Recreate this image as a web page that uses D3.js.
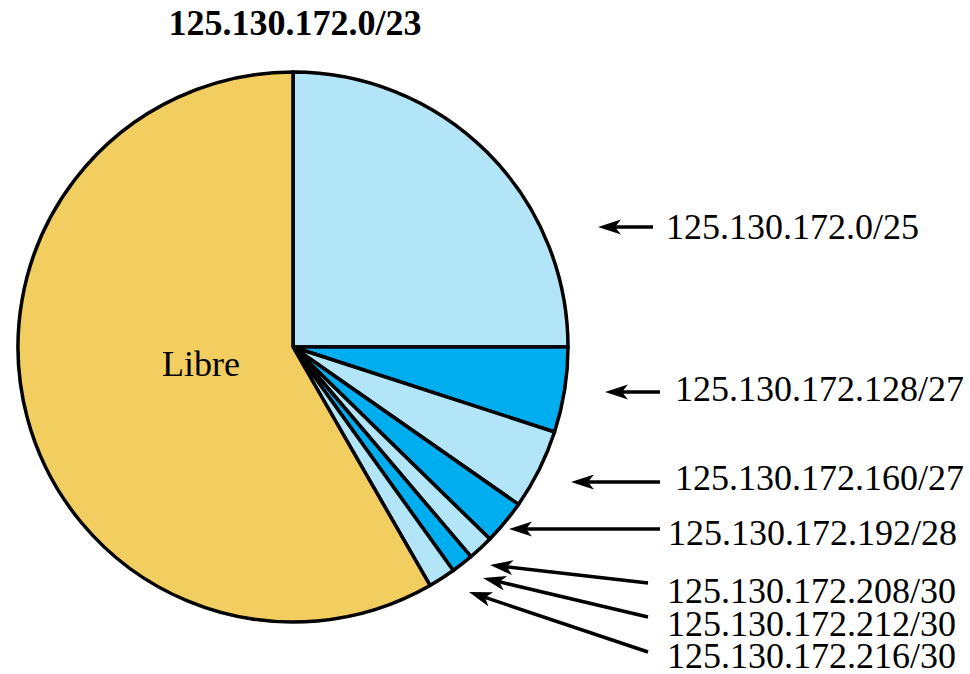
<!DOCTYPE html>
<html>
<head>
<meta charset="utf-8">
<script src="https://cdn.jsdelivr.net/npm/d3@7"></script>
<style>
  html, body { margin: 0; padding: 0; background: #fff; }
  svg { display: block; font-family: "Liberation Serif", "Times New Roman", serif; }
</style>
</head>
<body>
<svg id="chart" width="970" height="674"></svg>
<script>
// Address blocks inside 125.130.172.0/23 (share of the pie, percent)
const blocks = [
  "125.130.172.0/25",
  "125.130.172.128/27",
  "125.130.172.160/27",
  "125.130.172.192/28",
  "125.130.172.208/30",
  "125.130.172.212/30",
  "125.130.172.216/30",
  "Libre"
];
const shares = [25, 5, 4.7, 2.6, 1.5, 1.3, 1.6, 58.3];
const fills = ["#b3e5f8", "#00adef", "#b3e5f8", "#00adef", "#b3e5f8", "#00adef", "#b3e5f8", "#f2cd5f"];
const title = "125.130.172.0/23";

// Callout layout for the allocated blocks: text anchor, arrow start and arrow tip
const callouts = [
  { tx: 666, ty: 239, x1: 653, y1: 227, x2: 598, y2: 227 },
  { tx: 675, ty: 401, x1: 660, y1: 392, x2: 605, y2: 392 },
  { tx: 675, ty: 490, x1: 660, y1: 482, x2: 571, y2: 482 },
  { tx: 668, ty: 545, x1: 660, y1: 529, x2: 509, y2: 529 },
  { tx: 667, ty: 603, x1: 648, y1: 583, x2: 490, y2: 565 },
  { tx: 667, ty: 636, x1: 648, y1: 617, x2: 483, y2: 578 },
  { tx: 667, ty: 668, x1: 648, y1: 652, x2: 469, y2: 592 }
];

const svg = d3.select("#chart");
const cx = 293, cy = 347, radius = 275;
const fontSize = 36;

const pie = d3.pie().sort(null).value(d => d).startAngle(0).endAngle(2 * Math.PI);
const arc = d3.arc().innerRadius(0).outerRadius(radius);
const arcs = pie(shares);

const g = svg.append("g").attr("transform", `translate(${cx},${cy})`);
g.selectAll("path.slice")
  .data(arcs)
  .join("path")
  .attr("class", "slice")
  .attr("d", arc)
  .attr("fill", (d, i) => fills[i])
  .attr("stroke", "#000")
  .attr("stroke-width", 3.5)
  .attr("stroke-linejoin", "round");

// Label for the free space inside its slice
g.append("text")
  .attr("x", 201 - cx)
  .attr("y", 376 - cy)
  .attr("text-anchor", "middle")
  .attr("font-size", fontSize)
  .attr("fill", "#000")
  .text(blocks[blocks.length - 1]);

// Title
svg.append("text")
  .attr("x", 295)
  .attr("y", 35)
  .attr("text-anchor", "middle")
  .attr("font-size", fontSize)
  .attr("font-weight", "bold")
  .attr("fill", "#000")
  .text(title);

// Arrows and block names
const headLen = 23, headHalf = 7.5, notch = 6;
const cg = svg.append("g");
callouts.forEach((c, i) => {
  const ang = Math.atan2(c.y2 - c.y1, c.x2 - c.x1);
  const back = headLen - notch;
  const ex = c.x2 - Math.cos(ang) * back;
  const ey = c.y2 - Math.sin(ang) * back;
  cg.append("line")
    .attr("x1", c.x1).attr("y1", c.y1)
    .attr("x2", ex).attr("y2", ey)
    .attr("stroke", "#000")
    .attr("stroke-width", 3.5);
  cg.append("path")
    .attr("d", `M0,0 L${-headLen},${-headHalf} L${-headLen + notch},0 L${-headLen},${headHalf} Z`)
    .attr("transform", `translate(${c.x2},${c.y2}) rotate(${ang * 180 / Math.PI})`)
    .attr("fill", "#000");
  cg.append("text")
    .attr("x", c.tx)
    .attr("y", c.ty)
    .attr("font-size", fontSize)
    .attr("fill", "#000")
    .text(blocks[i]);
});
</script>
</body>
</html>
